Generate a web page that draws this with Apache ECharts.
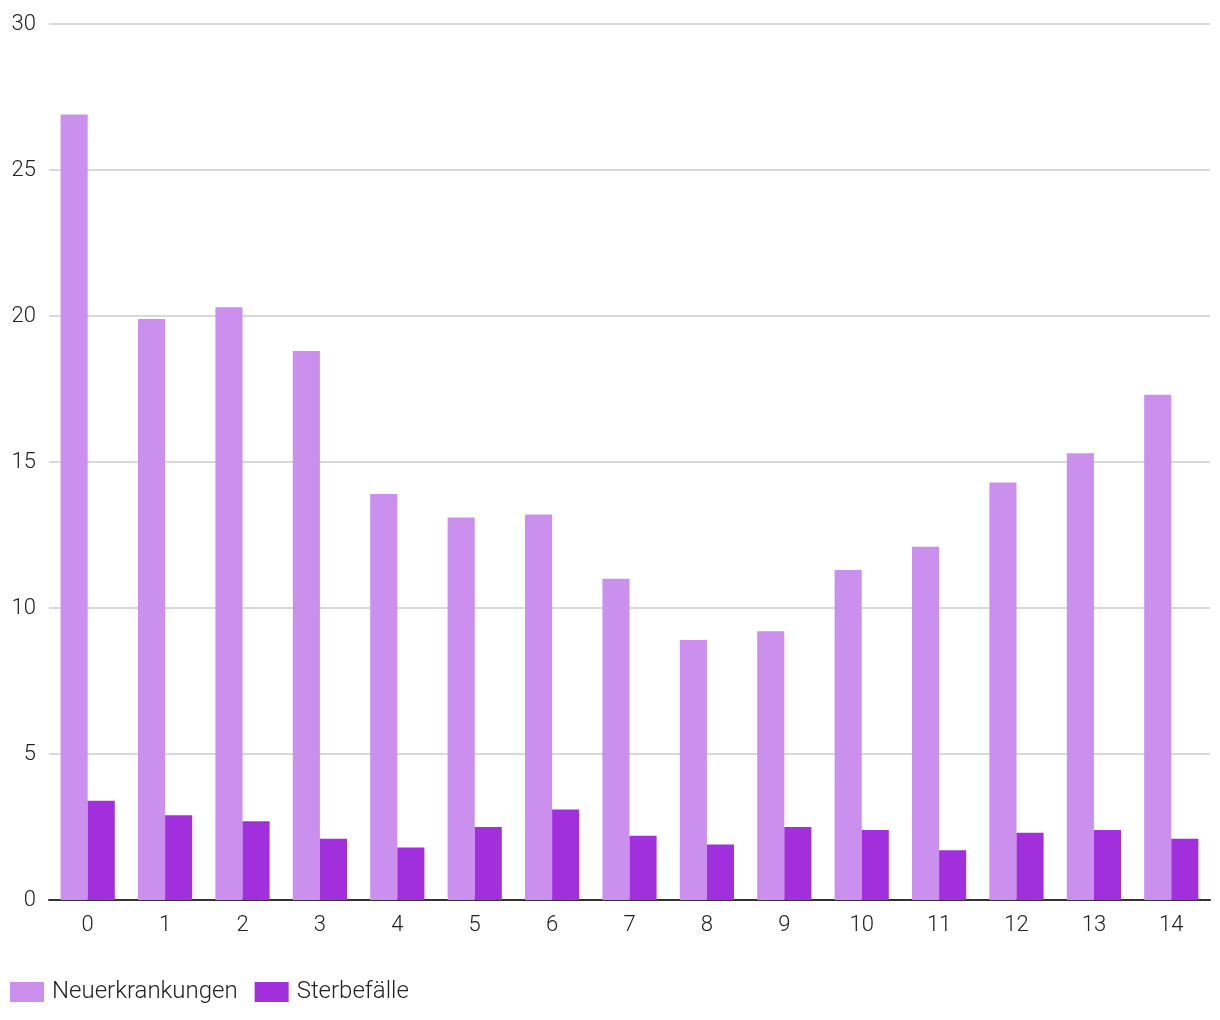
<!DOCTYPE html>
<html><head><meta charset="utf-8">
<script src="https://cdn.jsdelivr.net/npm/echarts@6/dist/echarts.min.js"></script>
<style>html,body{margin:0;padding:0;background:#fff}#c{width:1220px;height:1020px}</style>
</head><body><div id="c"></div>
<script>
const categories = ['0','1','2','3','4','5','6','7','8','9','10','11','12','13','14'];
const neuerkrankungen = [26.9,19.9,20.3,18.8,13.9,13.1,13.2,11.0,8.9,9.2,11.3,12.1,14.3,15.3,17.3];
const sterbefaelle = [3.4,2.9,2.7,2.1,1.8,2.5,3.1,2.2,1.9,2.5,2.4,1.7,2.3,2.4,2.1];
const seriesNames = ['Neuerkrankungen','Sterbefälle'];
const chart = echarts.init(document.getElementById('c'), null, {renderer:'canvas'});
const font = 'Roboto';
chart.setOption({
  animation:false,
  color:['#cb8fed','#a22fdc'],
  grid:{left:49,right:10,top:24,bottom:120,containLabel:false},
  legend:{left:10,top:980,padding:0,itemWidth:34,itemHeight:20,itemGap:17,icon:'rect',
    textStyle:{fontFamily:font,fontWeight:300,fontSize:24,color:'#222',padding:[0,0,0,3]},
    data:seriesNames},
  xAxis:{type:'category',data:categories,
    axisLine:{lineStyle:{color:'#333',width:2}},
    axisTick:{show:false},
    axisLabel:{fontFamily:font,fontWeight:300,fontSize:22,color:'#222',margin:14}},
  yAxis:{type:'value',min:0,max:30,interval:5,
    axisLine:{show:false},axisTick:{show:false},
    splitLine:{lineStyle:{color:'#cccccc',width:1.5}},
    axisLabel:{fontFamily:font,fontWeight:300,fontSize:22,color:'#222',margin:13}},
  series:[
    {name:seriesNames[0],type:'bar',data:neuerkrankungen,barGap:'0%',barCategoryGap:'30%'},
    {name:seriesNames[1],type:'bar',data:sterbefaelle,barGap:'0%',barCategoryGap:'30%'}
  ]
});
</script></body></html>
